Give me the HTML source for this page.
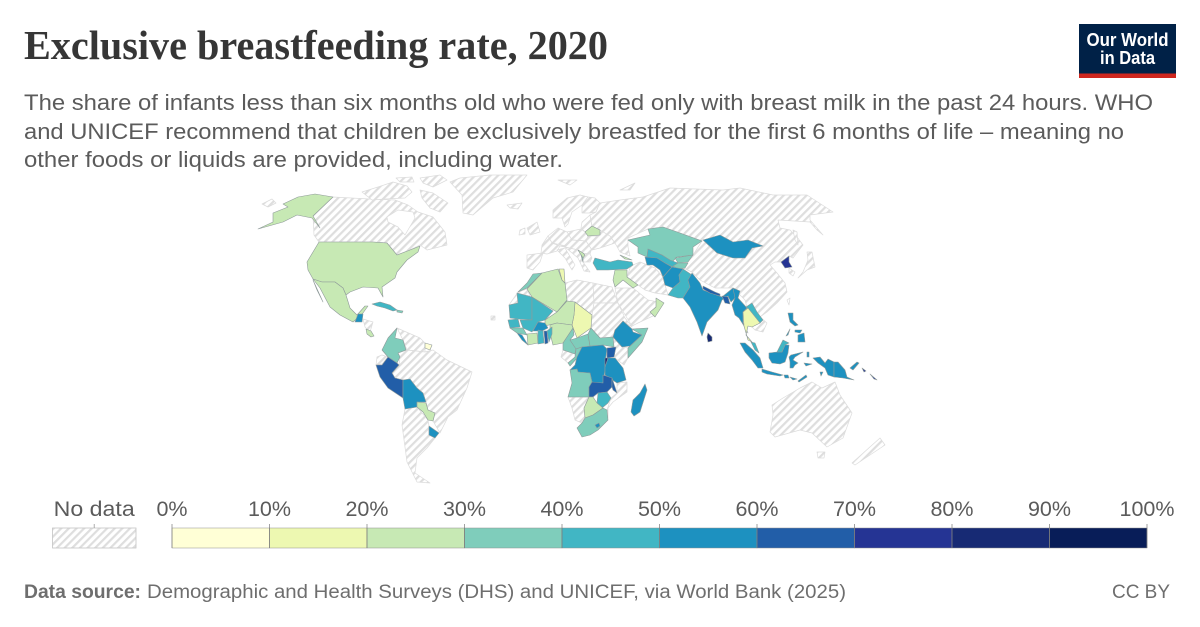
<!DOCTYPE html>
<html lang="en">
<head>
<meta charset="utf-8">
<title>Exclusive breastfeeding rate, 2020</title>
<style>
html,body{margin:0;padding:0;background:#fff;}
svg{display:block;}
text{font-family:"Liberation Sans",sans-serif;}
</style>
</head>
<body>
<svg id="chart" width="1200" height="627" viewBox="0 0 1200 627" xmlns="http://www.w3.org/2000/svg">
<defs>
<pattern id="hatch" patternUnits="userSpaceOnUse" width="5.4" height="5.4" patternTransform="rotate(45)">
<rect width="5.4" height="5.4" fill="#fff"/>
<rect x="0" y="0" width="2.2" height="5.4" fill="#dedede"/>
</pattern>
</defs>
<rect width="1200" height="627" fill="#fff"/>

<text x="24" y="59" font-size="41" font-weight="700" fill="#363636" style="font-family:'Liberation Serif',serif" textLength="584" lengthAdjust="spacingAndGlyphs">Exclusive breastfeeding rate, 2020</text>

<g font-size="22.5" fill="#5b5b5b">
<text x="24" y="110" textLength="1129" lengthAdjust="spacingAndGlyphs">The share of infants less than six months old who were fed only with breast milk in the past 24 hours. WHO</text>
<text x="24" y="139" textLength="1100" lengthAdjust="spacingAndGlyphs">and UNICEF recommend that children be exclusively breastfed for the first 6 months of life – meaning no</text>
<text x="24" y="167" textLength="539" lengthAdjust="spacingAndGlyphs">other foods or liquids are provided, including water.</text>
</g>

<g>
<rect x="1079" y="24" width="97" height="54" fill="#002147"/>
<rect x="1079" y="73.5" width="97" height="4.5" fill="#ce261e"/>
<text x="1127.5" y="46" font-size="18" font-weight="700" fill="#fff" text-anchor="middle" textLength="82" lengthAdjust="spacingAndGlyphs">Our World</text>
<text x="1127.5" y="64" font-size="18" font-weight="700" fill="#fff" text-anchor="middle" textLength="55" lengthAdjust="spacingAndGlyphs">in Data</text>
</g>

<g id="no-data-land"></g>
<g id="countries"></g>
<g id="legend"></g>

<g font-size="19" fill="#6e6e6e">
<text x="24" y="598" font-weight="700" textLength="117" lengthAdjust="spacingAndGlyphs">Data source:</text>
<text x="147" y="598" textLength="699" lengthAdjust="spacingAndGlyphs">Demographic and Health Surveys (DHS) and UNICEF, via World Bank (2025)</text>
<text x="1112" y="598" textLength="58" lengthAdjust="spacingAndGlyphs">CC BY</text>
</g>
</svg>

<script>
// ---- data ----
const binEdges = [0,10,20,30,40,50,60,70,80,90,100];
const binColors = ["#ffffd6","#edf8b1","#c7e9b4","#7fcdbb","#41b6c4","#1d91c0","#225ea8","#253494","#172a74","#081d58"];
const tickLabels = ["0%","10%","20%","30%","40%","50%","60%","70%","80%","90%","100%"];

const countryNames = ["united-states","mexico","guatemala","costa-rica","cuba","dominican-republic","colombia","peru","bolivia","paraguay","uruguay","suriname",
"morocco","algeria","tunisia","chad","niger","mauritania","mali","burkina-faso","nigeria","senegal","guinea","sierra-leone","cote-divoire","ghana","togo","benin","cameroon","central-african-republic","south-sudan","congo","dr-congo","uganda","rwanda","tanzania","angola","zambia","malawi","zimbabwe","botswana","south-africa","lesotho","madagascar","ethiopia","somalia",
"iraq-syria","turkey","armenia","oman","belarus","serbia","albania","kazakhstan","uzbekistan","turkmenistan","kyrgyzstan","tajikistan","afghanistan","pakistan","india","nepal","bangladesh","myanmar","laos","thailand","malaysia","sri-lanka","mongolia","north-korea","indonesia","malaysia-borneo","philippines","papua-new-guinea","solomon-islands"];
const countryValues = [25,28,55,26,45,35,
35,65,55,28,55,8,
35,25,15,16,25,42,44,58,27,45,35,55,25,45,65,42,35,35,35,35,55,65,85,55,35,65,62,42,28,32,55,55,58,35,
26,42,25,24,25,25,35,35,45,55,35,35,57,47,58,65,62,52,45,15,42,82,58,75,52,42,52,55,75];

// map geography (polygon rings, separated by |)
const noDataRings = {
 "canada":"313,216 333,197 370,199 395,200 408,205 418,212 433,217 445,232 447,245 427,250 420,245 410,250 397,255 387,243 373,242 319,242 314,235|387,217 398,210 413,212 415,218 405,235 398,227 388,222",
 "canada-arctic":"362,192 378,187 393,182 407,186 412,192 405,198 385,199 372,200|420,190 433,193 448,203 440,212 430,208 422,198|420,178 440,175 447,180 433,187 423,183|396,178 412,177 414,182 400,182",
 "alaska-islands":"262,204 272,199 276,203 268,207",
 "greenland":"460,178 490,175 527,175 513,192 493,198 473,215 463,213 462,195 450,182|507,205 522,203 518,209 510,208",
 "central-america":"363,319 373,322 370,332 365,327",
 "venezuela-guyana":"397,328 420,338 425,343 425,352 407,350 403,340",
 "ecuador":"377,357 382,355 388,357 382,364 376,365",
 "brazil":"407,350 425,352 433,350 447,360 472,372 467,388 457,410 448,417 440,433 433,421 435,413 428,410 426,402 423,393 417,388 410,379 403,380 395,378 392,373 399,365 400,357 398,353",
 "argentina-chile":"405,409 417,407 428,420 429,426 429,435 435,438 427,448 417,458 415,473 430,483 417,482 407,462 402,425",
 "western-sahara":"518,292 527,289 530,296 517,293 518,303 509,305",
 "libya":"565,283 577,280 593,283 594,303 592,315 575,302 567,301",
 "egypt":"593,283 612,287 618,303 594,303",
 "sudan":"594,303 618,303 625,318 632,327 623,321 615,330 613,337 600,338 590,328 592,315",
 "arabia":"615,288 633,288 648,300 663,303 655,315 638,323 632,326 627,318 618,303",
 "gabon":"563,350 575,354 575,357 568,363 561,357",
 "kenya":"613,337 622,347 628,348 628,358 624,365 615,358 614,347",
 "namibia":"568,397 589,397 584,408 585,418 582,423 575,420 572,408",
 "mozambique":"617,383 627,382 627,392 613,402 608,408 608,418 605,416 611,398 617,393",
 "iberia":"527,255 543,253 540,262 533,270 527,268",
 "uk-ireland":"527,228 537,222 540,232 530,235|520,230 525,228 525,234 519,235",
 "scandinavia":"553,218 553,210 567,198 580,195 588,197 582,205 572,212 568,224 565,227 562,218",
 "finland":"582,205 588,197 595,198 600,203 596,212 590,213 582,213",
 "baltics":"582,222 590,215 592,226 585,232 581,228",
 "poland":"567,232 581,229 585,232 588,236 586,241 572,240",
 "germany-benelux":"548,236 558,228 567,232 572,240 566,246 552,243",
 "france":"542,245 548,236 552,243 560,246 557,251 547,254 541,253",
 "central-europe":"560,246 566,246 572,240 586,241 592,248 590,254 580,253 578,250 565,247",
 "ukraine":"586,241 588,236 598,236 600,230 610,236 615,243 600,248 592,250",
 "italy":"557,250 565,248 575,265 572,270 565,258",
 "balkans":"565,247 578,250 580,253 590,254 592,258 590,262 583,262 590,272 584,271 578,258",
 "russia-china":"590,215 596,212 600,203 620,200 643,197 670,188 723,190 740,188 773,195 807,195 833,212 810,215 810,220 823,235 817,230 810,222 778,220 780,228 790,230 797,237 803,245 793,258 789,256 781,262 775,262 770,265 777,273 785,283 787,292 777,303 767,312 760,317 767,323 763,332 755,330 752,327 745,300 733,288 715,288 700,280 692,272 683,268 693,255 702,241 680,233 663,227 648,229 628,238 628,247 630,256 620,252 615,243 610,236 600,230 592,226",
 "iran":"633,265 640,262 655,268 663,277 665,285 668,295 655,293 645,290 638,285 627,277 630,268",
 "arctic-russia":"558,180 577,180 570,185|620,190 635,183 630,190",
 "australia":"772,405 783,398 800,388 812,382 822,388 835,382 840,395 852,413 843,438 827,447 812,433 800,430 775,437 770,432 773,415|817,452 825,452 824,458 818,458",
 "new-zealand":"852,463 880,438 885,445 870,455 855,465",
 "japan":"798,278 807,270 815,267 812,252 807,252 808,260 803,272",
 "south-korea":"789,268 795,272 793,276 789,273",
 "sakhalin":"793,230 797,232 798,245 795,240",
 "taiwan":"787,300 790,298 789,305",
 "atlantic-specks":"491,316 495,316 495,320 491,320"
};
const countryRings = {
 "united-states":"319,242 373,242 387,243 397,255 410,250 420,246 418,252 407,260 397,272 395,278 382,287 383,297 378,288 363,287 350,292 346,295 343,288 335,282 322,282 313,279 308,270 307,262|333,197 313,216 320,228 312,218 297,215 283,222 258,229 273,222 273,213 288,207 283,204 298,197 315,194",
 "mexico":"313,279 322,282 335,282 343,288 346,295 350,308 357,315 365,306 368,306 363,313 353,322 340,315 330,307 320,288|313,280 323,302 317,290",
 "guatemala":"358,314 363,314 362,322 355,322",
 "costa-rica":"366,329 371,331 374,336 371,337 367,334",
 "cuba":"372,304 380,302 390,305 397,310 393,311 385,308 377,306",
 "dominican-republic":"397,310 403,311 402,313 397,312",
 "colombia":"397,328 388,338 382,350 388,357 397,363 400,357 398,353 406,350 403,340 395,338",
 "peru":"376,365 382,365 388,357 397,363 399,365 392,373 395,378 403,380 403,398 388,388 380,377",
 "bolivia":"403,380 410,379 417,388 423,393 426,402 417,402 417,407 405,409 403,398",
 "paraguay":"417,402 426,403 428,410 435,413 433,421 428,420 423,412 417,407",
 "uruguay":"429,426 439,433 435,438 429,435",
 "suriname":"425,343 432,345 430,350 425,348",
 "morocco":"542,273 527,288 518,292 527,283 533,274",
 "algeria":"542,273 558,269 562,280 565,283 567,300 557,312 532,297 527,289",
 "tunisia":"559,269 564,269 565,283 562,280",
 "chad":"575,302 592,315 591,328 577,338 572,325 574,315",
 "niger":"567,301 575,302 574,315 572,325 557,323 545,326 545,320 557,312",
 "mauritania":"517,293 532,297 532,320 518,319 510,318 509,305 518,303",
 "mali":"532,297 553,311 545,320 538,322 532,332 523,328 520,320 532,320",
 "burkina-faso":"538,322 545,323 548,328 542,331 533,331",
 "nigeria":"550,325 557,323 572,325 573,328 563,343 553,345 550,333",
 "senegal":"508,320 518,319 520,327 510,328",
 "guinea":"510,328 523,328 527,335 522,334 517,333",
 "sierra-leone":"517,333 522,335 528,345 522,340",
 "cote-divoire":"527,334 537,333 538,343 528,345",
 "ghana":"538,330 543,331 544,343 538,344",
 "togo":"544,331 547,331 548,343 545,344",
 "benin":"547,331 552,327 552,334 549,342",
 "cameroon":"563,343 573,328 574,335 570,340 576,348 575,354 563,350",
 "central-african-republic":"577,338 588,334 590,346 582,347 576,349 570,340",
 "south-sudan":"588,334 591,328 600,338 613,337 614,347 603,345 590,346",
 "congo":"576,349 582,347 578,357 570,366 568,363 575,357",
 "dr-congo":"582,347 603,345 607,349 605,363 605,370 603,383 595,383 592,382 590,373 578,372 577,369 570,370 575,365 577,357",
 "uganda":"607,348 616,347 614,357 607,358",
 "rwanda":"605,358 608,358 607,366 605,366",
 "tanzania":"608,358 615,358 623,368 626,380 617,383 605,375 605,367",
 "angola":"570,370 577,369 578,372 590,373 592,382 589,387 589,397 583,397 568,397 572,383",
 "zambia":"592,382 603,383 603,375 612,378 612,387 607,392 598,393 593,397 589,397 589,387",
 "malawi":"612,378 615,387 617,393 613,390 612,387",
 "zimbabwe":"598,393 607,392 611,398 608,403 602,408 597,403",
 "botswana":"589,397 593,397 597,403 603,408 593,415 585,418 584,408",
 "south-africa":"585,418 593,415 603,408 607,410 608,420 598,430 590,435 582,437 577,428 582,423",
 "lesotho":"595,425 599,423 600,426 597,428",
 "madagascar":"645,384 647,390 640,412 634,416 631,412 633,400 640,393",
 "ethiopia":"623,321 632,329 633,332 642,335 630,346 622,347 613,337 615,330",
 "somalia":"632,329 648,328 642,342 628,358 628,348 642,335",
 "iraq-syria":"615,270 627,270 627,277 638,285 633,288 623,280 615,287 613,280",
 "turkey":"595,258 610,262 618,260 632,262 633,265 627,269 608,270 597,270 593,263",
 "armenia":"620,255 632,260 625,259",
 "oman":"656,298 664,303 655,317 650,312 656,307",
 "belarus":"585,232 592,226 600,230 600,235 588,236",
 "serbia":"578,250 583,253 585,255 583,258",
 "albania":"581,255 583,258 583,262",
 "kazakhstan":"628,240 650,235 648,229 663,227 680,233 702,241 693,247 693,255 677,257 672,262 662,255 648,249 647,257 638,253 638,247",
 "uzbekistan":"648,249 662,255 670,260 678,263 673,267 665,263 657,258 647,257",
 "turkmenistan":"645,257 657,258 665,263 672,267 663,277 660,270 653,265 647,265",
 "kyrgyzstan":"675,258 693,255 688,262 678,263",
 "tajikistan":"673,266 678,263 688,263 685,268 678,269",
 "afghanistan":"663,277 672,267 683,269 679,275 680,282 673,288 665,285",
 "pakistan":"683,269 692,275 688,280 690,287 683,298 678,298 668,295 673,288 680,282 679,275",
 "india":"692,273 700,283 703,290 722,297 733,288 739,291 735,298 731,302 728,296 722,300 718,310 707,322 702,336 697,322 690,307 683,298 690,287 688,280",
 "nepal":"703,286 715,292 720,294 720,296 710,293 703,289",
 "bangladesh":"722,296 728,297 730,304 725,303",
 "myanmar":"733,288 740,291 738,298 747,308 743,312 743,323 748,333 744,326 739,318 735,315 732,305 735,298",
 "laos":"746,307 752,303 757,312 763,320 760,323 752,313",
 "thailand":"743,312 748,308 752,313 760,323 752,327 748,326 746,335 752,342 748,340 744,326",
 "malaysia":"751,342 755,343 759,353 755,350",
 "sri-lanka":"708,333 712,337 712,341 708,342 707,337",
 "mongolia":"703,240 720,235 733,242 748,240 763,246 752,248 745,258 733,258 717,253",
 "north-korea":"781,262 789,256 789,262 792,267 785,268",
 "indonesia":"740,343 745,343 753,350 760,358 763,368 758,368 752,360 745,352|762,369 772,372 783,375 780,376 767,374 762,372|784,375 788,375 789,378 785,378|790,377 797,379 793,380|798,381 806,375 807,377 799,382|769,353 777,352 782,352 785,345 789,345 788,353 785,362 780,364 772,363 769,358|791,355 803,352 795,357 793,360 798,363 795,365 793,368 790,368 790,362 789,357|807,352 809,352 809,357 807,357|813,358 820,357 825,363 828,359 834,362 834,377 828,375 825,368 818,363|804,363 812,364 806,366|820,372 823,372 821,376",
 "malaysia-borneo":"777,352 783,340 789,343 785,345 782,352",
 "philippines":"788,313 793,313 793,320 798,325 795,326 790,322|798,335 804,333 805,342 798,342|786,336 790,329 788,335|795,330 802,330 800,333 795,332",
 "papua-new-guinea":"834,362 838,362 845,370 847,377 854,380 843,378 834,377|850,368 857,362 859,363 853,370",
 "solomon-islands":"862,368 866,371 864,372|870,374 877,380 874,379"
};

// ---- scales ----
const legendLeft = 172, legendRight = 1147, legendTop = 528, legendBottom = 548;
function legendX(v){ return legendLeft + (v - binEdges[0]) / (binEdges[binEdges.length-1] - binEdges[0]) * (legendRight - legendLeft); }
function colorFor(v){
  for (let i = 0; i < binColors.length; i++) { if (v < binEdges[i+1]) return binColors[i]; }
  return binColors[binColors.length-1];
}
function ringsToPath(s){
  return s.split("|").map(function(r){ return "M" + r.trim().split(/\s+/).join("L") + "Z"; }).join("");
}
const NS = "http://www.w3.org/2000/svg";

// ---- no-data land ----
const noDataLayer = document.getElementById("no-data-land");
Object.keys(noDataRings).forEach(function(k){
  const p = document.createElementNS(NS, "path");
  p.setAttribute("d", ringsToPath(noDataRings[k]));
  p.setAttribute("fill", "url(#hatch)");
  p.setAttribute("fill-rule", "evenodd");
  p.setAttribute("stroke", "#dcdcdc");
  p.setAttribute("stroke-width", "0.7");
  p.setAttribute("stroke-linejoin", "round");
  
  
  noDataLayer.appendChild(p);
});

// ---- countries with data ----
const countryLayer = document.getElementById("countries");
countryNames.forEach(function(name, i){
  const p = document.createElementNS(NS, "path");
  p.setAttribute("d", ringsToPath(countryRings[name]));
  p.setAttribute("fill", colorFor(countryValues[i]));
  p.setAttribute("stroke", "#8f9a9a");
  p.setAttribute("stroke-width", "0.6");
  p.setAttribute("stroke-linejoin", "round");
  
  
  countryLayer.appendChild(p);
});

// ---- legend ----
const legend = document.getElementById("legend");
const ndRect = document.createElementNS(NS, "rect");
ndRect.setAttribute("x", "52.5");
ndRect.setAttribute("y", legendTop);
ndRect.setAttribute("width", "83.5");
ndRect.setAttribute("height", legendBottom - legendTop);
ndRect.setAttribute("fill", "url(#hatch)");
ndRect.setAttribute("stroke", "#c4c4c4");
ndRect.setAttribute("stroke-width", "0.8");


legend.appendChild(ndRect);

const ndTick = document.createElementNS(NS, "line");
ndTick.setAttribute("x1", "94.2");
ndTick.setAttribute("x2", "94.2");
ndTick.setAttribute("y1", legendTop - 4);
ndTick.setAttribute("y2", legendTop);
ndTick.setAttribute("stroke", "#999");
ndTick.setAttribute("stroke-width", "0.8");


legend.appendChild(ndTick);

const ndText = document.createElementNS(NS, "text");
ndText.setAttribute("x", "94.2");
ndText.setAttribute("y", "516");
ndText.setAttribute("text-anchor", "middle");
ndText.setAttribute("font-size", "21.5");
ndText.setAttribute("fill", "#5b5b5b");
ndText.setAttribute("textLength", "81");
ndText.setAttribute("lengthAdjust", "spacingAndGlyphs");


ndText.textContent = "No data";
legend.appendChild(ndText);

binColors.forEach(function(c, i){
  const r = document.createElementNS(NS, "rect");
  const x0 = legendX(binEdges[i]), x1 = legendX(binEdges[i+1]);
  r.setAttribute("x", x0);
  r.setAttribute("y", legendTop);
  r.setAttribute("width", x1 - x0);
  r.setAttribute("height", legendBottom - legendTop);
  r.setAttribute("fill", c);
  r.setAttribute("stroke", "#8f8f8f");
  r.setAttribute("stroke-width", "0.5");
  
  
  legend.appendChild(r);
});
tickLabels.forEach(function(lbl, i){
  const x = legendX(binEdges[i]);
  const t = document.createElementNS(NS, "line");
  t.setAttribute("x1", x);
  t.setAttribute("x2", x);
  t.setAttribute("y1", legendTop - 4);
  t.setAttribute("y2", legendBottom);
  t.setAttribute("stroke", "#7a7a7a");
  t.setAttribute("stroke-width", "0.7");
  
  
  legend.appendChild(t);
  const s = document.createElementNS(NS, "text");
  s.setAttribute("x", x);
  s.setAttribute("y", "516");
  s.setAttribute("text-anchor", "middle");
  s.setAttribute("font-size", "21.5");
  s.setAttribute("fill", "#5b5b5b");
  
  
  s.textContent = lbl;
  legend.appendChild(s);
});
</script>
</body>
</html>
